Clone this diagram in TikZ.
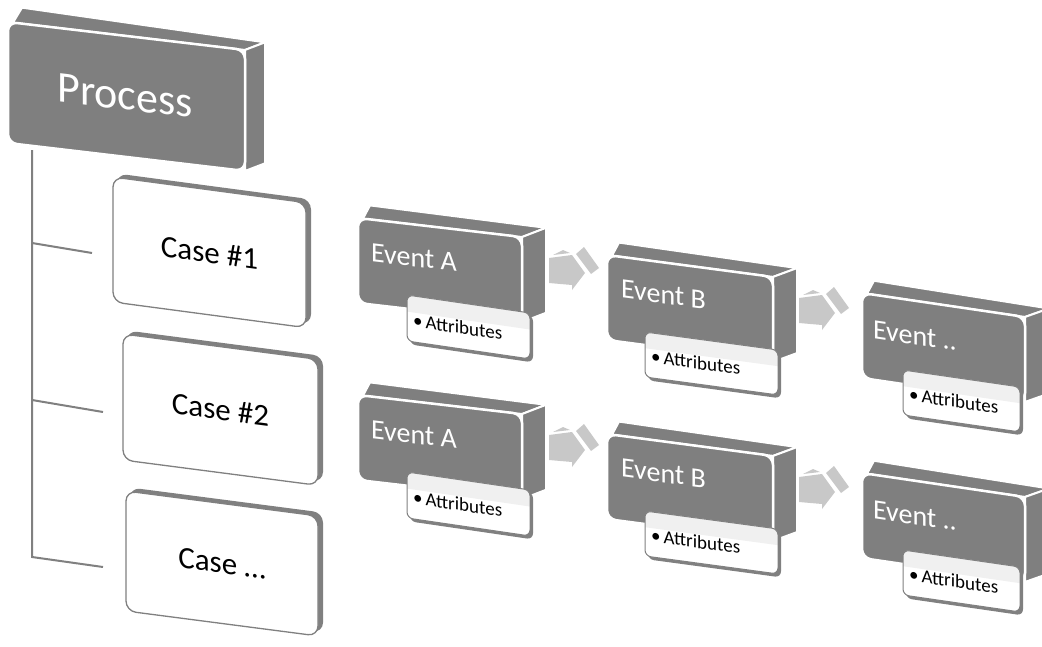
\documentclass[tikz,border=0pt]{standalone}
\usepackage{fontspec}
\setmainfont{Carlito}
\definecolor{blk}{HTML}{7F7F7F}
\definecolor{arr}{HTML}{C8C8C8}
\definecolor{ln}{HTML}{808080}
\definecolor{tint}{HTML}{F0F0F0}
\tikzset{
  face/.style={fill=blk, draw=white, line width=2pt, line join=round},
  frontface/.style={fill=blk, draw=white, line width=2.5pt, rounded corners=9pt},
  darktext/.style={text=white, inner sep=0pt, transform shape},
  casetext/.style={text=black, inner sep=0pt, transform shape, font=\fontsize{31}{36}\selectfont},
  attrtext/.style={text=black, inner sep=0pt, transform shape, anchor=base west, font=\fontsize{19}{22}\selectfont},
  eventtext/.style={darktext, anchor=base west, font=\fontsize{28}{32}\selectfont},
  tree/.style={draw=ln, line width=2pt},
  arrowface/.style={fill=arr},
}
\newcommand{\DarkShape}[6]{%
  \path[face] (5,0) -- (#3,#4) -- ({#1+#5},{#6}) -- (#1,0) -- cycle;
  \path[face] (#1,0) -- ({#1+#5},{#6}) -- ({#1+#5},{#2+#6}) -- (#1,#2) -- cycle;
  \path[frontface] (0,0) -- (#1,0) -- (#1,#2) -- (0,#2) -- cycle;
}
\newcommand{\CaseShape}[2]{%
  \path[fill=ln, rounded corners=10pt] (4,-4) -- ({#1+5},-4) -- ({#1+5},{#2-4}) -- (4,{#2-4}) -- cycle;
  \path[fill=white, draw=ln, line width=1.3pt, rounded corners=10pt] (0,0) -- (#1,0) -- (#1,#2) -- (0,#2) -- cycle;
}
\newcommand{\AttrShape}[2]{%
  \path[fill=ln, rounded corners=6pt] (3,2) -- ({#1+3},2) -- ({#1+3},{#2+3}) -- (3,{#2+3}) -- cycle;
  \begin{scope}
    \clip[rounded corners=6pt] (0,0) -- (#1,0) -- (#1,#2) -- (0,#2) -- cycle;
    \fill[white] (0,0) -- (#1,0) -- (#1,#2) -- (0,#2) -- cycle;
    \fill[tint] (0,0) -- (#1,0) -- (#1,{0.36*#2}) -- (0,{0.36*#2}) -- cycle;
  \end{scope}
  \path[draw=ln, line width=1pt, rounded corners=6pt] (0,0) -- (#1,0) -- (#1,#2) -- (0,#2) -- cycle;
}
\newcommand{\ArrowShape}{%
  \path[arrowface] (0,0) -- (23,-3) -- (36,15) -- (23,32) -- (23,27) -- (0,25) -- cycle;
  \path[arrowface] (4,-3) -- (14,-8) -- (21,-5) -- cycle;
  \path[arrowface] (27,-4) -- (35,-11) -- (50,10) -- (42,16) -- cycle;
}
\begin{document}
\begin{tikzpicture}[x=1pt,y=-1pt]
\useasboundingbox (0,0) rectangle (1042,646);

% tree connectors
\coordinate (t0) at (32,150);
\coordinate (t1) at (32,243);
\coordinate (t2) at (32,400);
\coordinate (t3) at (32,557);
\coordinate (e1) at (92,253);
\coordinate (e2) at (103,412);
\coordinate (e3) at (103,567);
\draw[tree] (t0) -- (t3) -- (e3);
\draw[tree] (t1) -- (e1);
\draw[tree] (t2) -- (e2);

% Process
\begin{scope}[shift={(8,22)}, yslant=-0.118]
  \DarkShape{237}{121}{14}{-16}{20}{-10}
  \node[darktext, font=\fontsize{44}{50}\selectfont] (process) at (117,60) {Process};
\end{scope}

% Cases
\begin{scope}[shift={(113,177)}, yslant=-0.133]
  \CaseShape{193}{125}
  \node[casetext] (case1) at (96.5,62.5) {Case \#1};
\end{scope}
\begin{scope}[shift={(123,334)}, yslant=-0.13]
  \CaseShape{195}{126}
  \node[casetext] (case2) at (97.5,63) {Case \#2};
\end{scope}
\begin{scope}[shift={(126,491)}, yslant=-0.13]
  \CaseShape{192}{120}
  \node[casetext] (case3) at (96,60) {Case …};
\end{scope}

% Row 1 events
\begin{scope}[shift={(358,218)}, yslant=-0.116]
  \DarkShape{164}{85}{12}{-14}{24}{-12}
  \node[eventtext] (ea1) at (13,42) {Event A};
\end{scope}
\begin{scope}[shift={(407,295)}, yslant=-0.146]
  \AttrShape{123}{46}
  \node[attrtext] (aa1) at (6,31) {•\hspace{3pt}Attributes};
\end{scope}
\begin{scope}[shift={(549,258)}]
  \ArrowShape
\end{scope}
\begin{scope}[shift={(607,255)}, yslant=-0.132]
  \DarkShape{166}{85}{12}{-14}{24}{-12}
  \node[eventtext] (eb1) at (14,41) {Event B};
\end{scope}
\begin{scope}[shift={(645,332)}, yslant=-0.135]
  \AttrShape{133}{45}
  \node[attrtext] (ab1) at (6,30) {•\hspace{3pt}Attributes};
\end{scope}
\begin{scope}[shift={(799,298)}]
  \ArrowShape
\end{scope}
\begin{scope}[shift={(862,293)}, yslant=-0.147]
  \DarkShape{163}{85}{12}{-14}{24}{-12}
  \node[eventtext] (ec1) at (11,44) {Event ..};
\end{scope}
\begin{scope}[shift={(903,370)}, yslant=-0.145]
  \AttrShape{117}{45}
  \node[attrtext] (ac1) at (6,30) {•\hspace{3pt}Attributes};
\end{scope}

% Row 2 events
\begin{scope}[shift={(358,395)}, yslant=-0.116]
  \DarkShape{164}{85}{12}{-14}{24}{-12}
  \node[eventtext] (ea2) at (13,42) {Event A};
\end{scope}
\begin{scope}[shift={(407,472)}, yslant=-0.146]
  \AttrShape{123}{46}
  \node[attrtext] (aa2) at (6,31) {•\hspace{3pt}Attributes};
\end{scope}
\begin{scope}[shift={(549,435)}]
  \ArrowShape
\end{scope}
\begin{scope}[shift={(607,434)}, yslant=-0.132]
  \DarkShape{166}{85}{12}{-14}{24}{-12}
  \node[eventtext] (eb2) at (14,41) {Event B};
\end{scope}
\begin{scope}[shift={(645,511)}, yslant=-0.135]
  \AttrShape{133}{45}
  \node[attrtext] (ab2) at (6,30) {•\hspace{3pt}Attributes};
\end{scope}
\begin{scope}[shift={(799,477)}]
  \ArrowShape
\end{scope}
\begin{scope}[shift={(862,473)}, yslant=-0.147]
  \DarkShape{163}{85}{12}{-14}{24}{-12}
  \node[eventtext] (ec2) at (11,44) {Event ..};
\end{scope}
\begin{scope}[shift={(903,550)}, yslant=-0.145]
  \AttrShape{117}{45}
  \node[attrtext] (ac2) at (6,30) {•\hspace{3pt}Attributes};
\end{scope}
\end{tikzpicture}
\end{document}
